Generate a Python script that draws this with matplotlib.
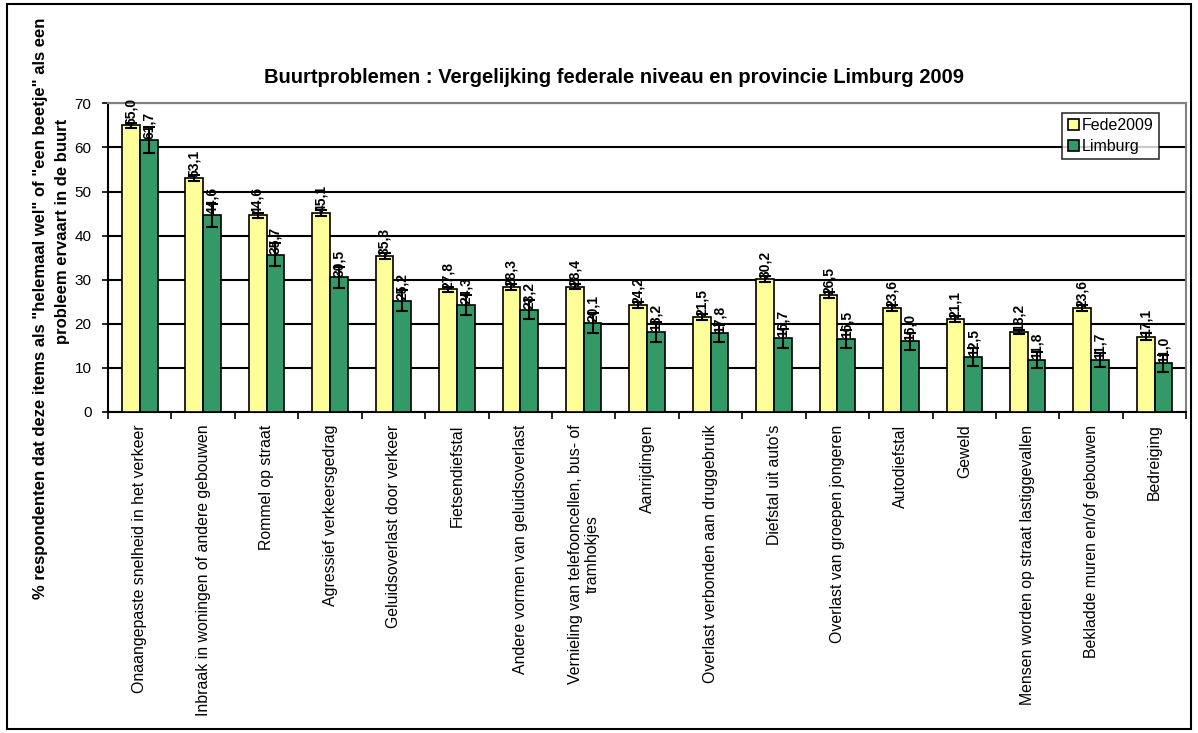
import numpy as np
import matplotlib.pyplot as plt
from matplotlib.patches import Rectangle

plt.rcParams['font.family'] = ['Liberation Sans', 'DejaVu Sans']

# Categorieen en waarden
categorieen = [
    "Onaangepaste snelheid in het verkeer",
    "Inbraak in woningen of andere gebouwen",
    "Rommel op straat",
    "Agressief verkeersgedrag",
    "Geluidsoverlast door verkeer",
    "Fietsendiefstal",
    "Andere vormen van geluidsoverlast",
    "Vernieling van telefooncellen, bus- of\ntramhokjes",
    "Aanrijdingen",
    "Overlast verbonden aan druggebruik",
    "Diefstal uit auto's",
    "Overlast van groepen jongeren",
    "Autodiefstal",
    "Geweld",
    "Mensen worden op straat lastiggevallen",
    "Bekladde muren en/of gebouwen",
    "Bedreiging",
]
fede2009 = [65.0, 53.1, 44.6, 45.1, 35.3, 27.8, 28.3, 28.4, 24.2, 21.5,
            30.2, 26.5, 23.6, 21.1, 18.2, 23.6, 17.1]
limburg = [61.7, 44.6, 35.7, 30.5, 25.2, 24.3, 23.2, 20.1, 18.2, 17.8,
           16.7, 16.5, 16.0, 12.5, 11.8, 11.7, 11.0]
fede_err = [0.6, 0.7, 0.6, 0.7, 0.7, 0.6, 0.7, 0.6, 0.7, 0.7,
            0.7, 0.6, 0.7, 0.7, 0.5, 0.6, 0.7]
limburg_err = [2.9, 2.6, 2.7, 2.4, 2.4, 2.3, 2.2, 2.3, 2.3, 2.0,
               2.1, 2.1, 1.9, 2.0, 1.8, 1.6, 1.9]

fig = plt.figure(figsize=(11.98, 7.33), dpi=100)
ax = fig.add_axes([0.0902, 0.438, 0.9, 0.421])

x = np.arange(len(categorieen))
w = 0.28
ekw = dict(ecolor='black', elinewidth=1.5, capsize=4, capthick=1.5)
b1 = ax.bar(x - w / 2, fede2009, w, color='#FFFF99', edgecolor='black',
            linewidth=1.2, yerr=fede_err, error_kw=ekw, label='Fede2009', zorder=3)
b2 = ax.bar(x + w / 2, limburg, w, color='#339966', edgecolor='black',
            linewidth=1.2, yerr=limburg_err, error_kw=ekw, label='Limburg', zorder=3)

# waardelabels
for bars, vals in ((b1, fede2009), (b2, limburg)):
    for b, v in zip(bars, vals):
        ax.text(b.get_x() + b.get_width() / 2, v + 0.2, f"{v:.1f}".replace('.', ','),
                rotation=90, ha='center', va='bottom', fontsize=10,
                fontweight='bold', zorder=4)

ax.set_xlim(-0.5, len(categorieen) - 0.5)
ax.set_ylim(0, 70)
ax.set_yticks(range(0, 71, 10))
ax.yaxis.grid(True, color='black', linewidth=1.5, zorder=0)
ax.tick_params(axis='y', labelsize=11, length=4, width=1.2, pad=8)

ax.set_xticks(x)
ax.set_xticklabels(categorieen, rotation=90, fontsize=11.4, va='top', ha='center',
                   multialignment='center')
ax.tick_params(axis='x', length=0, pad=9)
ax.set_xticks(np.arange(-0.5, len(categorieen)), minor=True)
ax.tick_params(axis='x', which='minor', length=5, width=1.2)

for s in ('left', 'bottom'):
    ax.spines[s].set_linewidth(1.5)
for s in ('top', 'right'):
    ax.spines[s].set_color('#808080')
    ax.spines[s].set_linewidth(1.5)

ax.set_title("Buurtproblemen : Vergelijking federale niveau en provincie Limburg 2009",
             fontsize=14.5, fontweight='bold', pad=15, x=0.469)

leg = ax.legend(loc='upper right', bbox_to_anchor=(0.975, 0.97), fontsize=11.5,
                frameon=True, fancybox=False, edgecolor='black', handlelength=0.7,
                handleheight=0.7, handletextpad=0.2, borderpad=0.35,
                labelspacing=0.35, borderaxespad=0)
leg.get_frame().set_linewidth(1.2)

fig.text(0.034, 0.58,
         '% respondenten dat deze items als "helemaal wel" of "een beetje" als een',
         rotation=90, ha='center', va='center', fontsize=12, fontweight='bold')
fig.text(0.052, 0.685, 'probleem ervaart in de buurt',
         rotation=90, ha='center', va='center', fontsize=12, fontweight='bold')

fig.patches.append(Rectangle((0.006, 0.006), 0.988, 0.988, transform=fig.transFigure,
                             fill=False, edgecolor='black', linewidth=1.5))

fig.savefig('out.png', dpi=100)
